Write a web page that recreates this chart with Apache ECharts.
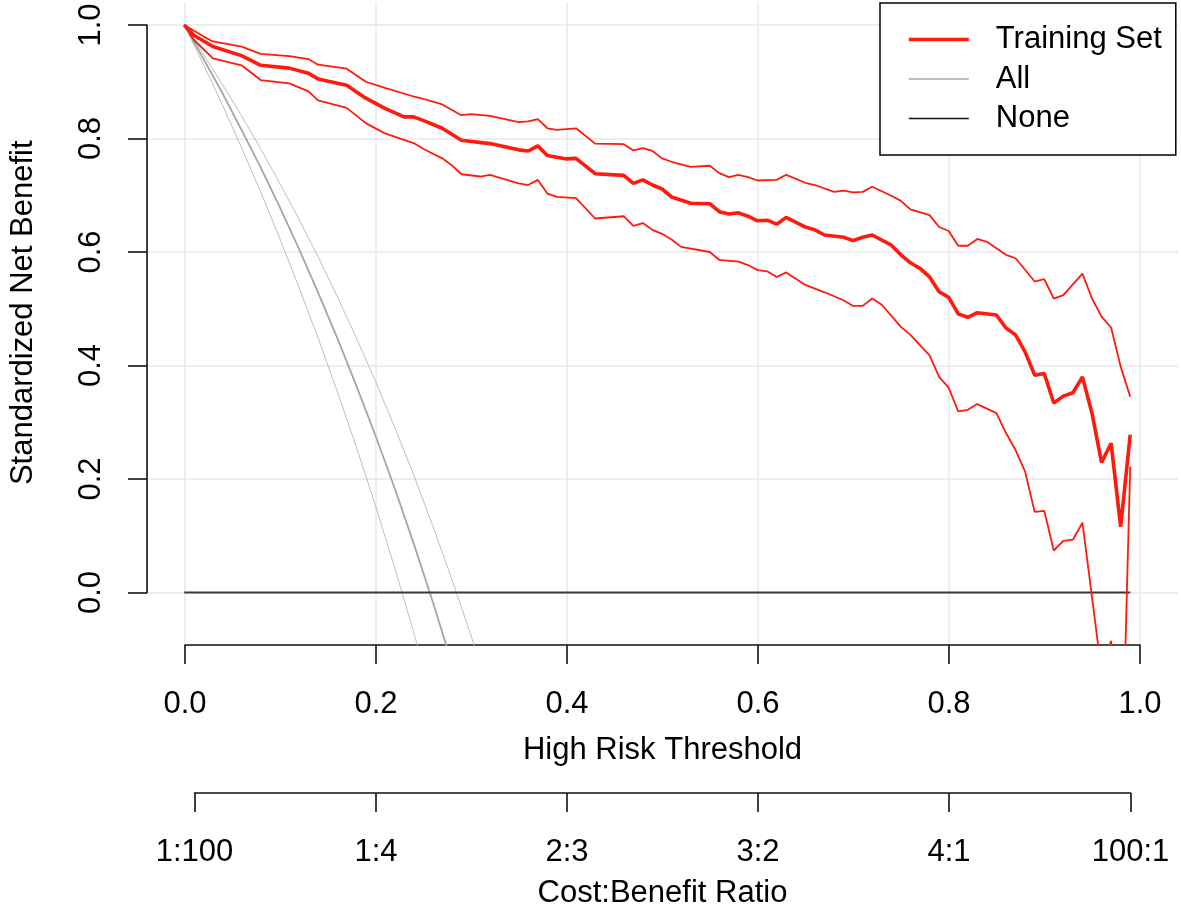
<!DOCTYPE html>
<html>
<head>
<meta charset="utf-8">
<title>Decision curve</title>
<script src="https://cdn.jsdelivr.net/npm/echarts@6/dist/echarts.min.js"></script>
<style>
  html, body { margin: 0; padding: 0; background: #fff; }
  #chart { width: 1181px; height: 910px; }
</style>
</head>
<body>
<div id="chart"></div>
<script>
// training set: standardized net benefit [threshold, value]
var trainingNB = [
  [0.00, 1.000], [0.01, 0.982], [0.03, 0.962], [0.06, 0.946], [0.08, 0.929],
  [0.11, 0.924], [0.13, 0.915], [0.14, 0.905], [0.17, 0.894], [0.19, 0.871],
  [0.21, 0.853], [0.23, 0.838], [0.24, 0.838], [0.25, 0.832], [0.27, 0.818],
  [0.29, 0.797], [0.32, 0.791], [0.35, 0.780], [0.36, 0.778], [0.37, 0.787],
  [0.38, 0.770], [0.40, 0.764], [0.41, 0.765], [0.43, 0.738], [0.46, 0.735],
  [0.47, 0.721], [0.48, 0.727], [0.49, 0.718], [0.50, 0.711], [0.51, 0.697],
  [0.53, 0.686], [0.55, 0.685], [0.56, 0.671], [0.57, 0.667], [0.58, 0.669],
  [0.59, 0.663], [0.60, 0.655], [0.61, 0.656], [0.62, 0.649], [0.63, 0.661],
  [0.65, 0.644], [0.66, 0.639], [0.67, 0.630], [0.69, 0.626], [0.70, 0.620],
  [0.71, 0.626], [0.72, 0.630], [0.74, 0.612], [0.75, 0.595], [0.76, 0.581],
  [0.77, 0.571], [0.78, 0.556], [0.79, 0.530], [0.80, 0.520], [0.81, 0.491],
  [0.82, 0.485], [0.83, 0.493], [0.85, 0.489], [0.86, 0.466], [0.87, 0.454],
  [0.88, 0.424], [0.89, 0.383], [0.90, 0.386], [0.91, 0.334], [0.92, 0.346],
  [0.93, 0.352], [0.94, 0.380], [0.95, 0.316], [0.96, 0.229], [0.97, 0.263],
  [0.98, 0.116], [0.99, 0.278]
];

var trainingUpper = [
  [0.00, 1.000], [0.02, 0.980], [0.03, 0.971], [0.06, 0.962], [0.08, 0.949],
  [0.11, 0.945], [0.13, 0.940], [0.14, 0.930], [0.17, 0.923], [0.19, 0.900],
  [0.21, 0.889], [0.24, 0.874], [0.25, 0.870], [0.27, 0.860], [0.29, 0.841],
  [0.30, 0.843], [0.32, 0.840], [0.35, 0.829], [0.36, 0.830], [0.37, 0.834],
  [0.38, 0.818], [0.39, 0.815], [0.41, 0.818], [0.43, 0.791], [0.46, 0.790],
  [0.47, 0.779], [0.48, 0.783], [0.49, 0.778], [0.50, 0.765], [0.51, 0.759],
  [0.53, 0.750], [0.55, 0.752], [0.56, 0.739], [0.57, 0.732], [0.58, 0.736],
  [0.59, 0.732], [0.60, 0.726], [0.62, 0.727], [0.63, 0.736], [0.65, 0.722],
  [0.66, 0.718], [0.68, 0.706], [0.69, 0.708], [0.70, 0.705], [0.71, 0.706],
  [0.72, 0.715], [0.74, 0.699], [0.75, 0.690], [0.76, 0.675], [0.78, 0.665],
  [0.79, 0.644], [0.80, 0.637], [0.81, 0.611], [0.82, 0.611], [0.83, 0.623],
  [0.84, 0.618], [0.86, 0.595], [0.87, 0.589], [0.89, 0.548], [0.90, 0.552],
  [0.91, 0.518], [0.92, 0.524], [0.94, 0.562], [0.95, 0.518], [0.96, 0.486],
  [0.97, 0.467], [0.98, 0.398], [0.99, 0.345]
];

var trainingLower = [
  [0.00, 1.000], [0.01, 0.974], [0.03, 0.941], [0.06, 0.929], [0.08, 0.903],
  [0.11, 0.897], [0.13, 0.883], [0.14, 0.867], [0.17, 0.854], [0.19, 0.827],
  [0.21, 0.809], [0.24, 0.792], [0.25, 0.782], [0.27, 0.765], [0.28, 0.753],
  [0.29, 0.737], [0.31, 0.733], [0.32, 0.736], [0.35, 0.721], [0.36, 0.718],
  [0.37, 0.727], [0.38, 0.703], [0.39, 0.697], [0.41, 0.695], [0.43, 0.659],
  [0.46, 0.663], [0.47, 0.646], [0.48, 0.651], [0.49, 0.639], [0.50, 0.632],
  [0.51, 0.622], [0.52, 0.609], [0.55, 0.600], [0.56, 0.586], [0.58, 0.583],
  [0.59, 0.577], [0.60, 0.568], [0.61, 0.566], [0.62, 0.556], [0.63, 0.564],
  [0.65, 0.542], [0.67, 0.529], [0.69, 0.515], [0.70, 0.505], [0.71, 0.505],
  [0.72, 0.518], [0.73, 0.507], [0.75, 0.468], [0.76, 0.454], [0.78, 0.418],
  [0.79, 0.380], [0.80, 0.361], [0.81, 0.319], [0.82, 0.322], [0.83, 0.332],
  [0.85, 0.316], [0.86, 0.281], [0.87, 0.251], [0.88, 0.213], [0.89, 0.142],
  [0.90, 0.144], [0.91, 0.074], [0.92, 0.091], [0.93, 0.093], [0.94, 0.123],
  [0.95, -0.008], [0.96, -0.140], [0.97, -0.085], [0.98, -0.410], [0.99, 0.222]
];

// "treat all" curve and its band
var allThresholds = [0.00, 0.02, 0.04, 0.06, 0.08, 0.10, 0.12, 0.14, 0.16,
  0.18, 0.20, 0.22, 0.24, 0.26, 0.28, 0.30, 0.32];
var allNB = [1.000, 0.941, 0.880, 0.815, 0.749, 0.679, 0.606, 0.529, 0.449,
  0.365, 0.277, 0.185, 0.087, -0.016, -0.124, -0.239, -0.360];
var allLower = [1.000, 0.931, 0.859, 0.784, 0.706, 0.624, 0.538, 0.449, 0.355,
  0.257, 0.154, 0.045, -0.069, -0.190, -0.317, -0.451, -0.593];
var allUpper = [1.000, 0.949, 0.895, 0.840, 0.782, 0.721, 0.658, 0.592, 0.522,
  0.449, 0.373, 0.292, 0.208, 0.118, 0.024, -0.075, -0.181];

var noneThresholds = [0.00, 0.99];
var noneNB = [0, 0];

// second axis
var costTicks = [0.0099, 0.2, 0.4, 0.6, 0.8, 0.9901];
var costLabels = ["1:100", "1:4", "2:3", "3:2", "4:1", "100:1"];

var FONT = "'Liberation Sans', Arial, Helvetica, sans-serif";
var AXIS_COLOR = "#111";
var GRID_COLOR = "#e8e8e8";
var RED = "#ff1a0d";

function zip(xs, ys) {
  return xs.map(function (x, i) { return [x, ys[i]]; });
}

var chart = echarts.init(document.getElementById("chart"), null, { renderer: "canvas" });

var opt = {
  backgroundColor: "#fff",
  animation: false,
  textStyle: { fontFamily: FONT },
  grid: [
    // plotting region
    { left: 146, right: 3, top: 2, bottom: 265 },
    // threshold axis + vertical grid lines
    { left: 185, right: 41, top: 2, bottom: 265 },
    // net benefit axis + horizontal grid lines
    { left: 146, right: 3, top: 25, bottom: 317.5 },
    // cost:benefit axis
    { left: 194.45, right: 50.5, top: 700, bottom: 114 }
  ],
  xAxis: [
    { gridIndex: 0, type: "value", min: -0.04, max: 1.04, show: false },
    {
      gridIndex: 1, type: "value", min: 0, max: 1, interval: 0.2,
      name: "High Risk Threshold", nameLocation: "middle", nameGap: 90,
      nameTextStyle: { fontSize: 31, color: "#000", fontFamily: FONT },
      axisLine: { show: true, onZero: false, lineStyle: { color: AXIS_COLOR, width: 1.6 } },
      axisTick: { show: true, length: 19, lineStyle: { color: AXIS_COLOR, width: 1.6 } },
      axisLabel: {
        margin: 44, fontSize: 31, color: "#000", fontFamily: FONT,
        formatter: function (v) { return v.toFixed(1); }
      },
      splitLine: { show: true, lineStyle: { color: GRID_COLOR, width: 1.5 } }
    },
    { gridIndex: 2, type: "value", min: 0, max: 1, show: false },
    {
      gridIndex: 3, type: "value", min: 0.0099, max: 0.9901,
      name: "Cost:Benefit Ratio", nameLocation: "middle", nameGap: 85,
      nameTextStyle: { fontSize: 31, color: "#000", fontFamily: FONT },
      axisLine: { show: true, onZero: false, lineStyle: { color: AXIS_COLOR, width: 1.6 } },
      axisTick: { show: true, length: 19, customValues: costTicks, lineStyle: { color: AXIS_COLOR, width: 1.6 } },
      axisLabel: {
        margin: 44, fontSize: 31, color: "#000", fontFamily: FONT,
        customValues: costTicks,
        formatter: function (v) {
          for (var i = 0; i < costTicks.length; i++) {
            if (Math.abs(costTicks[i] - v) < 1e-6) return costLabels[i];
          }
          return "";
        }
      },
      splitLine: { show: false }
    }
  ],
  yAxis: [
    { gridIndex: 0, type: "value", min: -0.0925, max: 1.0405, show: false },
    { gridIndex: 1, type: "value", min: 0, max: 1, show: false },
    {
      gridIndex: 2, type: "value", min: 0, max: 1, interval: 0.2,
      name: "Standardized Net Benefit", nameLocation: "middle", nameGap: 108,
      nameTextStyle: { fontSize: 31, color: "#000", fontFamily: FONT, padding: [0, 8, 0, 0] },
      axisLine: { show: true, onZero: false, lineStyle: { color: AXIS_COLOR, width: 1.6 } },
      axisTick: { show: true, length: 19, lineStyle: { color: AXIS_COLOR, width: 1.6 } },
      axisLabel: {
        margin: 40, rotate: 90, fontSize: 31, color: "#000", fontFamily: FONT,
        formatter: function (v) { return v.toFixed(1); }
      },
      splitLine: { show: true, lineStyle: { color: GRID_COLOR, width: 1.5 } }
    },
    { gridIndex: 3, type: "value", min: 0, max: 1, show: false }
  ],
  legend: {
    data: [
      { name: "Training Set", lineStyle: { width: 3.6, color: RED } },
      { name: "All", lineStyle: { width: 1.5, color: "#a6a6a6" } },
      { name: "None", lineStyle: { width: 1.6, color: "#111" } }
    ],
    orient: "vertical",
    left: 880,
    top: 3,
    padding: [21, 14, 21, 27],
    itemWidth: 60,
    itemHeight: 14,
    itemGap: 8.5,
    borderColor: "#000",
    borderWidth: 1.5,
    backgroundColor: "#fff",
    selectedMode: false,
    itemStyle: { opacity: 0 },
    textStyle: { fontSize: 31, color: "#000", fontFamily: FONT, padding: [0, 0, 0, 22] }
  },
  series: [
    {
      name: "All lower", type: "line", xAxisIndex: 0, yAxisIndex: 0,
      data: zip(allThresholds, allLower), symbol: "none", silent: true,
      lineStyle: { color: "#bdbdbd", width: 1 }, z: 2
    },
    {
      name: "All upper", type: "line", xAxisIndex: 0, yAxisIndex: 0,
      data: zip(allThresholds, allUpper), symbol: "none", silent: true,
      lineStyle: { color: "#bdbdbd", width: 1 }, z: 2
    },
    {
      name: "All", type: "line", xAxisIndex: 0, yAxisIndex: 0,
      data: zip(allThresholds, allNB), symbol: "none", silent: true,
      color: "#a6a6a6",
      lineStyle: { color: "#a6a6a6", width: 1.8 }, z: 3
    },
    {
      name: "None", type: "line", xAxisIndex: 0, yAxisIndex: 0,
      data: zip(noneThresholds, noneNB), symbol: "none", silent: true,
      color: "#333",
      lineStyle: { color: "#3a3a3a", width: 2 }, z: 3
    },
    {
      name: "Training Set upper", type: "line", xAxisIndex: 0, yAxisIndex: 0,
      data: trainingUpper, symbol: "none", silent: true,
      lineStyle: { color: RED, width: 1.8 }, z: 4
    },
    {
      name: "Training Set lower", type: "line", xAxisIndex: 0, yAxisIndex: 0,
      data: trainingLower, symbol: "none", silent: true,
      lineStyle: { color: RED, width: 1.8 }, z: 4
    },
    {
      name: "Training Set", type: "line", xAxisIndex: 0, yAxisIndex: 0,
      data: trainingNB, symbol: "none", silent: true,
      color: RED,
      lineStyle: { color: RED, width: 3.6 }, z: 5
    }
  ]
};

chart.setOption(opt);
</script>
</body>
</html>
